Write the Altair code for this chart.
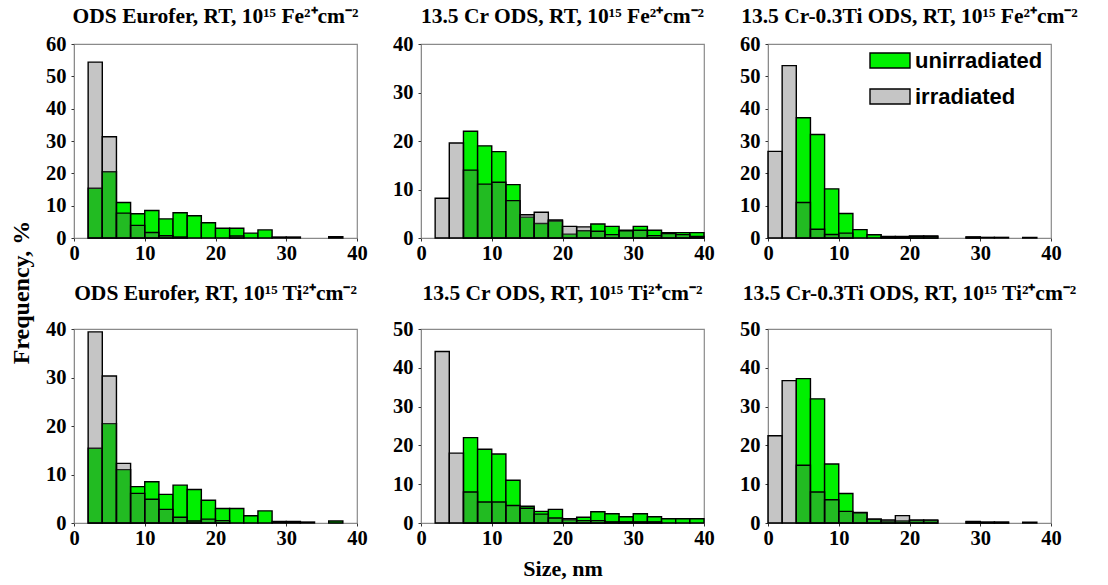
import altair as alt
import pandas as pd

# Size bins (nm): left edges, 2 nm wide
bin_start = [0, 2, 4, 6, 8, 10, 12, 14, 16, 18, 20, 22, 24, 26, 28, 30, 32, 34, 36, 38]
bin_width = 2

# Frequency (%) of particle sizes, unirradiated reference state of each alloy
eurofer_unirr = [0, 15.4, 20.5, 11.0, 7.5, 8.5, 5.9, 7.8, 6.9, 4.7, 3.0, 3.0, 1.5, 2.5, 0.3, 0.3, 0, 0, 0.4, 0]
cr_unirr = [0, 0, 0, 22.0, 19.0, 17.8, 11.0, 4.3, 3.0, 3.5, 0.8, 1.5, 2.9, 2.4, 1.6, 2.4, 1.6, 1.1, 1.1, 1.1]
crti_unirr = [0, 0, 37.2, 32.0, 15.2, 7.6, 2.6, 1.0, 0.5, 0.5, 0.6, 0.6, 0, 0, 0.3, 0.2, 0.2, 0, 0.2, 0]

# Frequency (%) after irradiation with Fe2+ and Ti2+ ions
eurofer_fe = [0, 54.4, 31.3, 7.7, 3.9, 1.7, 0.7, 0.3, 0, 0, 0, 0.6, 0, 0, 0, 0, 0, 0, 0, 0]
eurofer_ti = [0, 39.4, 30.3, 12.3, 6.1, 4.9, 2.8, 1.2, 0.4, 0.8, 0.5, 0, 0, 0, 0, 0, 0.2, 0, 0, 0]
cr_fe = [0, 8.2, 19.6, 14.0, 11.1, 11.5, 7.7, 4.8, 5.3, 3.7, 2.4, 2.3, 1.4, 0.7, 1.5, 1.6, 0.5, 0.9, 0.7, 0.3]
cr_ti = [0, 44.2, 18.0, 8.0, 5.4, 5.4, 4.5, 3.8, 2.3, 1.3, 1.1, 0.6, 0.6, 0.3, 0.3, 0.3, 0.3, 0, 0, 0]
crti_fe = [26.8, 53.3, 11.0, 2.7, 1.1, 1.5, 0, 0, 0.3, 0.3, 0.5, 0.5, 0, 0, 0.3, 0, 0, 0, 0, 0]
crti_ti = [22.5, 36.7, 14.9, 8.0, 6.0, 3.0, 2.7, 1.0, 0.8, 1.9, 0.8, 0.8, 0, 0, 0.4, 0.2, 0.2, 0, 0, 0]

titles = [
    "ODS Eurofer, RT, 10¹⁵ Fe²⁺cm⁻²",
    "13.5 Cr  ODS, RT, 10¹⁵ Fe²⁺cm⁻²",
    "13.5 Cr-0.3Ti  ODS, RT, 10¹⁵ Fe²⁺cm⁻²",
    "ODS Eurofer, RT, 10¹⁵ Ti²⁺cm⁻²",
    "13.5 Cr  ODS, RT, 10¹⁵ Ti²⁺cm⁻²",
    "13.5 Cr-0.3Ti  ODS, RT, 10¹⁵ Ti²⁺cm⁻²",
]
y_max = [60, 40, 60, 40, 50, 50]
legend_labels = ["unirradiated", "irradiated"]

GREEN = "#00f000"
GREY = "#5e5e5e"
GREY_OPACITY = 0.36
SERIF = "Liberation Serif"
W, H = 283, 194


def panel(unirr, irr, ymax, title, title_offset, x_title=None, legend=False):
    df = pd.DataFrame({
        "start": bin_start,
        "end": [b + bin_width for b in bin_start],
        "unirr": unirr,
        "irr": irr,
    })
    base = alt.Chart(df)
    x_axis = alt.Axis(values=[0, 10, 20, 30, 40], title=x_title if x_title else None,
                      titlePadding=10, labelFlush=False, labelOverlap=False)
    y_axis = alt.Axis(values=list(range(0, ymax + 1, 10)), title=None,
                      labelFlush=False, labelOverlap=False, labelPadding=5)
    y_scale = alt.Scale(domain=[0, ymax], nice=False)
    x = alt.X("start:Q", scale=alt.Scale(domain=[0, 40], nice=False), axis=x_axis)
    green = base.transform_filter("datum.unirr > 0").mark_rect(
        fill=GREEN, stroke="black", strokeWidth=1.4
    ).encode(x=x, x2="end:Q", y=alt.Y("unirr:Q", scale=y_scale, axis=y_axis),
             y2=alt.datum(0))
    grey = base.transform_filter("datum.irr > 0").mark_rect(
        fill=GREY, fillOpacity=GREY_OPACITY, stroke="black", strokeWidth=1.4
    ).encode(x=x, x2="end:Q", y=alt.Y("irr:Q", scale=y_scale, axis=y_axis),
             y2=alt.datum(0))
    layers = [green, grey]
    if legend:
        one = alt.Chart(pd.DataFrame({"label": legend_labels}))
        text_style = dict(align="left", baseline="middle", font="Liberation Sans",
                          fontWeight="bold", fontSize=22, color="black")
        layers += [
            one.transform_filter(alt.datum.label == legend_labels[0]).mark_rect(
                fill=GREEN, stroke="black", strokeWidth=1.4
            ).encode(x=alt.value(102), x2=alt.value(142), y=alt.value(9), y2=alt.value(24)),
            one.transform_filter(alt.datum.label == legend_labels[1]).mark_rect(
                fill=GREY, fillOpacity=GREY_OPACITY, stroke="black", strokeWidth=1.4
            ).encode(x=alt.value(102), x2=alt.value(142), y=alt.value(45), y2=alt.value(60)),
            one.transform_filter(alt.datum.label == legend_labels[0]).mark_text(
                **text_style
            ).encode(x=alt.value(147), y=alt.value(17), text="label:N"),
            one.transform_filter(alt.datum.label == legend_labels[1]).mark_text(
                **text_style
            ).encode(x=alt.value(147), y=alt.value(53), text="label:N"),
        ]
    return alt.layer(*layers).properties(
        width=W, height=H,
        title=alt.TitleParams(title, font=SERIF, fontSize=21.5, fontWeight="bold",
                              color="black", anchor="middle", offset=title_offset),
    )


panels = [
    panel(eurofer_unirr, eurofer_fe, y_max[0], titles[0], 7),
    panel(cr_unirr, cr_fe, y_max[1], titles[1], 7),
    panel(crti_unirr, crti_fe, y_max[2], titles[2], 7, legend=True),
    panel(eurofer_unirr, eurofer_ti, y_max[3], titles[3], 15),
    panel(cr_unirr, cr_ti, y_max[4], titles[4], 15, x_title="Size, nm"),
    panel(crti_unirr, crti_ti, y_max[5], titles[5], 15),
]

chart = alt.concat(
    *panels, columns=3, spacing={"row": 91, "column": 64}, bounds="flush",
    title=alt.TitleParams("Frequency, %", orient="left", anchor="middle", font=SERIF,
                          fontSize=24, fontWeight="bold", color="black", offset=11),
).properties(
    padding={"left": 9, "top": 4, "right": 5, "bottom": 5},
    background="white",
).configure_view(
    stroke="#8a8a8a", strokeWidth=1.2
).configure_axis(
    labelFont=SERIF, labelFontSize=20.5, labelFontWeight="bold", labelColor="black",
    titleFont=SERIF, titleFontSize=22, titleFontWeight="bold", titleColor="black",
    domainColor="#8a8a8a", tickColor="#333333", tickSize=3, labelPadding=2,
    labelOverlap=False, grid=False,
)

chart.save("out.html", embed_options={"renderer": "svg", "actions": False})
